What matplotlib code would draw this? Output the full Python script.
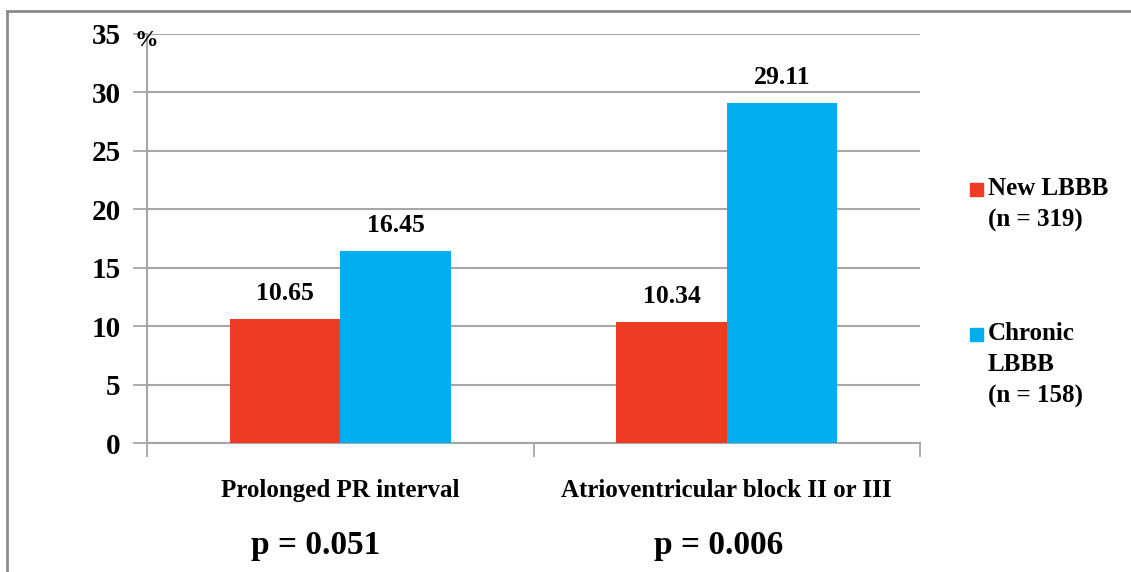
import matplotlib
matplotlib.use("Agg")
import matplotlib.pyplot as plt
from matplotlib.lines import Line2D
from matplotlib.patches import Rectangle
import numpy as np

categories = ["Prolonged PR interval", "Atrioventricular block II or III"]
new_lbbb = [10.65, 10.34]
chronic_lbbb = [16.45, 29.11]
series_labels = ["New LBBB\n(n = 319)", "Chronic\nLBBB\n(n = 158)"]
p_values = ["p = 0.051", "p = 0.006"]
y_ticks = [0, 5, 10, 15, 20, 25, 30, 35]

RED = "#EF3B24"
BLUE = "#00AEEF"
GRID = "#A6A6A6"
FONT = "Liberation Serif"

plt.rcParams["font.family"] = [FONT, "DejaVu Serif"]
plt.rcParams["font.weight"] = "bold"

W, H = 1131, 572
fig = plt.figure(figsize=(W / 100, H / 100), dpi=100)
ax = fig.add_axes([147 / W, 1 - 443 / H, (920 - 147) / W, (443 - 34) / H])

x = np.arange(len(categories))
bw = 0.286
b1 = ax.bar(x - bw / 2, new_lbbb, bw, color=RED, zorder=3)
b2 = ax.bar(x + bw / 2, chronic_lbbb, bw, color=BLUE, zorder=3)

for bars, vals in ((b1, new_lbbb), (b2, chronic_lbbb)):
    for rect, v in zip(bars, vals):
        ax.annotate(f"{v:.2f}", (rect.get_x() + rect.get_width() / 2, v),
                    xytext=(0, 14), textcoords="offset pixels",
                    ha="center", va="bottom", fontsize=18.5, fontweight="bold")

ax.set_xlim(-0.5, len(categories) - 0.5)
ax.set_ylim(0, 35)
ax.set_yticks(y_ticks)
ax.set_yticklabels([str(t) for t in y_ticks], fontsize=21, fontweight="bold")
ax.yaxis.grid(True, color=GRID, linewidth=1.5, zorder=0)
ax.set_axisbelow(True)

ax.set_xticks(np.arange(-0.5, len(categories), 1.0))
ax.set_xticklabels([])
ax.set_xticks(x, minor=True)
ax.set_xticklabels(categories, minor=True, fontsize=18, fontweight="bold")
ax.tick_params(axis="x", which="minor", length=0, pad=26)
ax.tick_params(axis="x", which="major", length=10, width=1.3, color=GRID, direction="out")
ax.tick_params(axis="y", length=10, width=1.3, color=GRID, direction="out", pad=9)

for s in ("top", "right"):
    ax.spines[s].set_visible(False)
for s in ("left", "bottom"):
    ax.spines[s].set_color(GRID)
    ax.spines[s].set_linewidth(1.5)

ax.text(-0.016, 35.3, "%", transform=ax.get_yaxis_transform(), ha="left", va="top",
        fontsize=17, fontweight="bold")

p_x = [-0.065, 0.979]
for px, pv in zip(p_x, p_values):
    ax.text(px, -8.8, pv, ha="center", va="center", fontsize=24, fontweight="bold")

# Legend (manual, marker aligned to first line)
legend_y = [180 / H, 325 / H]
for col, lab, ly in zip((RED, BLUE), series_labels, legend_y):
    fig.patches.append(Rectangle((970 / W, 1 - ly - 16 / H), 13 / W, 13 / H,
                                 transform=fig.transFigure, color=col))
    fig.text(988 / W, 1 - ly + 3 / H, lab, ha="left", va="top", fontsize=18,
             fontweight="bold", linespacing=1.45)

# outer frame (top and left edges)
fig.add_artist(Line2D([7 / W, 1.0], [1 - 11 / H, 1 - 11 / H], color="#8C8C8C", linewidth=2,
                      transform=fig.transFigure))
fig.add_artist(Line2D([7 / W, 7 / W], [0, 1 - 11 / H], color="#8C8C8C", linewidth=2,
                      transform=fig.transFigure))

fig.savefig("out.png", dpi=100)
